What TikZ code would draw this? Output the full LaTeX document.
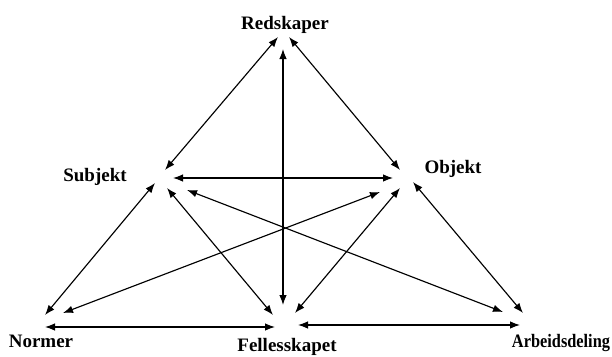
\documentclass[tikz,border=0pt]{standalone}
\usepackage{fontspec}
\usepackage{graphicx}
\setmainfont{Liberation Serif}
\usetikzlibrary{arrows.meta}
\begin{document}
\begin{tikzpicture}[x=1pt,y=-1pt,
  lbl/.style={font=\fontsize{19}{21}\selectfont\bfseries, inner sep=0pt, anchor=base},
  link/.style={{Latex[length=10pt,width=7.5pt]}-{Latex[length=10pt,width=7.5pt]}, line width=1.15pt}]
\useasboundingbox (0,0) rectangle (612,356);
% labels
\node[lbl] (R) at (285,29) {Redskaper};
\node[lbl] (S) at (95,181) {Subjekt};
\node[lbl] (O) at (453,173) {Objekt};
\node[lbl] (N) at (41,347) {Normer};
\node[lbl] (F) at (287,351) {Fellesskapet};
\node[lbl] (A) at (561,347) {\scalebox{0.86}[1]{Arbeidsdeling}};
% arrow endpoints
\coordinate (RS) at (278,37);  \coordinate (SR) at (165,170);
\coordinate (RF) at (283,49);  \coordinate (FR) at (283,305);
\coordinate (RO) at (289,37);  \coordinate (OR) at (400,170);
\coordinate (SO) at (173,178); \coordinate (OS) at (393,178);
\coordinate (SN) at (155,183); \coordinate (NS) at (45,315);
\coordinate (SF) at (167,188); \coordinate (FS) at (273,315);
\coordinate (SA) at (187,190); \coordinate (AS) at (503,312);
\coordinate (ON) at (380,192); \coordinate (NO) at (63,313);
\coordinate (OF) at (400,188); \coordinate (FO) at (295,313);
\coordinate (OA) at (413,182); \coordinate (AO) at (523,313);
\coordinate (NF) at (45,327);  \coordinate (FN) at (275,327);
\coordinate (FA) at (298,325); \coordinate (AF) at (520,325);
% connectors
\draw[link] (RS) -- (SR);
\draw[link] (RF) -- (FR);
\draw[link] (RO) -- (OR);
\draw[link] (SO) -- (OS);
\draw[link] (SN) -- (NS);
\draw[link] (SF) -- (FS);
\draw[link] (SA) -- (AS);
\draw[link] (ON) -- (NO);
\draw[link] (OF) -- (FO);
\draw[link] (OA) -- (AO);
\draw[link] (NF) -- (FN);
\draw[link] (FA) -- (AF);
\end{tikzpicture}
\end{document}
